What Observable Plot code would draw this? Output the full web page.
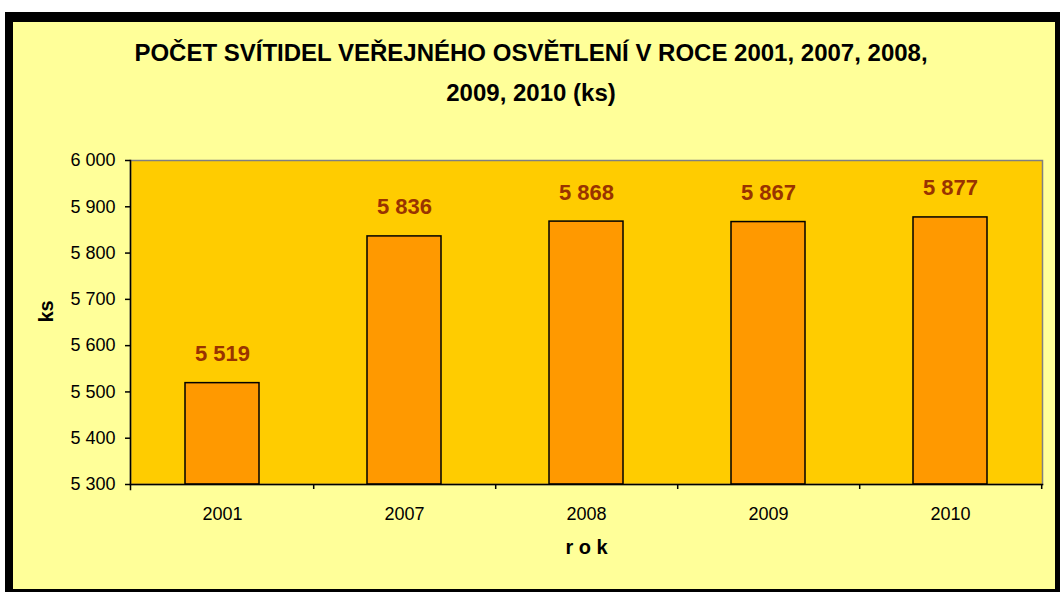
<!DOCTYPE html>
<html>
<head>
<meta charset="utf-8">
<script src="https://cdn.jsdelivr.net/npm/d3@7"></script>
<script src="https://cdn.jsdelivr.net/npm/@observablehq/plot@0.6"></script>
<style>
  html, body { margin: 0; padding: 0; overflow: hidden; background: #fff; }
  #wrap { position: relative; width: 1060px; height: 592px; overflow: hidden; font-family: Arial, "Liberation Sans", sans-serif; }
  #box { position: absolute; left: 5px; top: 12px; width: 1058px; height: 585px; box-sizing: border-box;
         border: 8px solid #000; border-top-width: 10px; background: #FFFF99; }
  #title { position: absolute; left: 0; top: 33px; width: 1062px; text-align: center; font-weight: bold;
           font-size: 24px; line-height: 40px; color: #000; }
  #chart { position: absolute; left: 0; top: 0; }
</style>
</head>
<body>
<div id="wrap">
  <div id="box"></div>
  <div id="title">POČET SVÍTIDEL VEŘEJNÉHO OSVĚTLENÍ V ROCE 2001, 2007, 2008,<br>2009, 2010 (ks)</div>
  <div id="chart"></div>
</div>
<script>
const years = ["2001", "2007", "2008", "2009", "2010"];
const counts = [5519, 5836, 5868, 5867, 5877];
const yTicks = [5300, 5400, 5500, 5600, 5700, 5800, 5900, 6000];
const yLabel = "ks";
const xLabel = "r o k";

const data = years.map((year, i) => ({year, count: counts[i]}));
const fmt = d3.formatLocale({thousands: " ", grouping: [3], decimal: ","}).format(",");

const W = 1060, H = 592, mL = 130, mR = 18, mT = 160, mB = 108;
const step = (W - mL - mR) / years.length;
const frameH = H - mT - mB;

const chart = Plot.plot({
  width: W, height: H,
  marginLeft: mL, marginRight: mR, marginTop: mT, marginBottom: mB,
  style: {background: "none", fontFamily: "Arial, 'Liberation Sans', sans-serif", color: "#000"},
  x: {domain: years, padding: 0},
  y: {domain: [yTicks[0], yTicks[yTicks.length - 1]]},
  marks: [
    Plot.frame({fill: "#FFCC00", stroke: "#808080", strokeWidth: 1.5}),
    Plot.barY(data, {x: "year", y1: () => yTicks[0], y2: "count", fill: "#FF9900", stroke: "#000", strokeWidth: 1.5, insetLeft: 54, insetRight: 54}),
    Plot.text(data, {x: "year", y: "count", text: d => fmt(d.count), dy: -29, fill: "#993300", fontWeight: "bold", fontSize: 22}),
    Plot.frame({anchor: "left", stroke: "#000", strokeWidth: 1.5, insetBottom: -5}),
    Plot.frame({anchor: "bottom", stroke: "#000", strokeWidth: 1.5}),
    Plot.ruleX(years, {x: d => d, dx: step / 2, insetTop: frameH, insetBottom: -5, stroke: "#000", strokeWidth: 1.5}),
    Plot.axisY({ticks: yTicks, tickFormat: fmt, tickSize: 5, tickPadding: 10, fontSize: 18, label: null, strokeWidth: 1.5}),
    Plot.axisX({tickSize: 0, tickPadding: 23, fontSize: 18, label: null}),
    Plot.text([yLabel], {text: d => d, frameAnchor: "left", dx: -84, rotate: -90, fontSize: 20, fontWeight: "bold"}),
    Plot.text([xLabel], {text: d => d, frameAnchor: "bottom", dy: 69, fontSize: 20, fontWeight: "bold"})
  ]
});
document.getElementById("chart").appendChild(chart);
</script>
</body>
</html>
